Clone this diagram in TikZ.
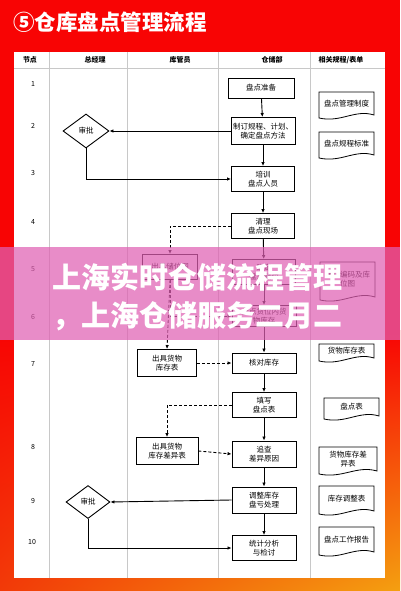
\documentclass[tikz,border=0pt]{standalone}
\usepackage{fontspec}
\setmainfont{Noto Sans CJK SC}
\usetikzlibrary{arrows.meta,shapes.geometric,calc,shadings}
\definecolor{bgred}{HTML}{F80404}
\definecolor{bgorange}{HTML}{F4A010}
\definecolor{bgmid}{HTML}{F23A08}
\definecolor{ovpink}{HTML}{E060B3}
\definecolor{gridgray}{HTML}{C8C8C8}
\tikzset{
  flowbox/.style={draw, line width=0.9pt, minimum width=63pt, minimum height=25pt, align=center,
    font=\fontsize{7.5}{9}\selectfont, inner sep=1pt},
  decide/.style={draw, line width=0.9pt, diamond, aspect=1.35, minimum width=46pt, minimum height=34pt,
    inner sep=0pt, font=\fontsize{7.5}{9}\selectfont},
  docline/.style={draw, line width=0.8pt},
  doctext/.style={align=center, font=\fontsize{7.5}{9}\selectfont, inner sep=0pt},
  flow/.style={line width=0.9pt, -{Latex[length=4pt,width=3.5pt]}},
  dflow/.style={line width=0.9pt, dashed, dash pattern=on 3pt off 2pt, -{Latex[length=4pt,width=3.5pt]}},
  headtext/.style={font=\fontsize{7}{8}\selectfont\bfseries, inner sep=0pt},
  numtext/.style={font=\fontsize{7}{8}\selectfont, inner sep=0pt},
}
\newcommand\mydoc[6]{%
  \draw[docline] (#2,#3) -- (#4,#3) -- (#4,{#5-3}) .. controls ({#4-0.35*(#4-#2)},{#5-9}) and ({#2+0.4*(#4-#2)},{#5+5}) .. (#2,#5) -- cycle;
  \node[doctext] (#1) at ({(#2+#4)/2},{(#3+#5)/2-1.5}) {#6};}
\begin{document}
\begin{tikzpicture}[x=1pt,y=-1pt]
\useasboundingbox (0,0) rectangle (400,591);
% background
\fill[bgred] (0,0) rectangle (400,591);
\shade[upper left=bgred, upper right=bgred, lower left=bgmid, lower right=bgorange] (0,330) rectangle (400,591);
% title
\node[anchor=west, text=white, inner sep=0pt, font=\fontsize{21.5}{23}\selectfont\bfseries] (title) at (13,22) {⑤仓库盘点管理流程};
% table
\fill[white] (14,52) rectangle (385,578);
\draw[gridgray, line width=0.5pt] (14,68) -- (385,68);
\foreach \xx in {49,127,218,310} \draw[gridgray, line width=0.5pt] (\xx,52) -- (\xx,578);
% header
\node[headtext] (h1) at (30,60) {节点};
\node[headtext] (h2) at (95,60) {总经理};
\node[headtext] (h3) at (180,60) {库管员};
\node[headtext] (h4) at (272,60) {仓储部};
\node[headtext] (h5) at (341,60) {相关规程/表单};
% row numbers
\node[numtext] (n1) at (33,84) {1};
\node[numtext] (n2) at (33,126) {2};
\node[numtext] (n3) at (33,173) {3};
\node[numtext] (n4) at (33,222) {4};
\node[numtext] (n5) at (33,269) {5};
\node[numtext] (n6) at (33,317) {6};
\node[numtext] (n7) at (33,364) {7};
\node[numtext] (n8) at (33,447) {8};
\node[numtext] (n9) at (33,501) {9};
\node[numtext] (n10) at (32,542) {10};
% warehouse department boxes
\node[flowbox, minimum width=66pt, minimum height=20pt] (b1) at (261,88) {盘点准备};
\node[flowbox, minimum width=64pt, minimum height=27pt] (b2) at (263,131) {制订规程、计划、\\确定盘点方法};
\node[flowbox] (b3) at (263,179) {培训\\盘点人员};
\node[flowbox] (b4) at (263,226) {清理\\盘点现场};
\node[flowbox] (b5) at (264,272) {确定\\盘点储位};
\node[flowbox, minimum width=64pt, minimum height=21pt] (b6) at (264,316) {盘点货位内货\\物库存};
\node[flowbox, minimum width=64pt, minimum height=20pt] (b7) at (264,363) {核对库存};
\node[flowbox, minimum width=64pt] (b8) at (264,405) {填写\\盘点表};
\node[flowbox, minimum width=64pt, minimum height=26pt] (b9) at (264,454) {追查\\差异原因};
\node[flowbox, minimum width=64pt, minimum height=26pt] (b10) at (264,500) {调整库存\\盘亏处理};
\node[flowbox, minimum width=64pt] (b11) at (264,548) {统计分析\\与检讨};
% storekeeper boxes
\node[flowbox, minimum width=55pt] (k5) at (170,267) {出具储位图};
\node[flowbox, minimum width=59pt, minimum height=27pt] (k7) at (167,363) {出具货物\\库存表};
\node[flowbox, minimum width=62pt, minimum height=27pt] (k8) at (167,451) {出具货物\\库存差异表};
% general manager diamonds
\node[decide] (d2) at (86,131) {审批};
\node[decide, minimum width=44pt, minimum height=33pt] (d9) at (88,502) {审批};
% documents
\mydoc{c1}{319}{92}{374}{118}{盘点管理制度}
\mydoc{c2}{319}{132}{374}{158}{盘点规程标准}
\mydoc{c5}{320}{262}{375}{300}{储位编码及库\\位图}
\mydoc{c7}{319}{344}{374}{361}{货物库存表}
\mydoc{c8}{324}{398}{379}{419}{盘点表}
\mydoc{c8b}{319}{447}{377}{474}{货物库存差\\异表}
\mydoc{c9}{319}{486}{374}{514}{库存调整表}
\mydoc{c10}{319}{527}{374}{555}{盘点工作报告}
% connectors (solid)
\draw[flow] (b1) -- (b2);
\draw[flow] (b2) -- (b3);
\draw[flow] (b3) -- (b4);
\draw[flow] (b4) -- (b5);
\draw[flow] (b5) -- (b6);
\draw[flow] (b6) -- (b7);
\draw[flow] (b7) -- (b8);
\draw[flow] (b8) -- (b9);
\draw[flow] (b9) -- (b10);
\draw[flow] (b10) -- (b11);
\draw[flow] (b2.west) -- (d2.east);
\draw[flow] (d2.south) |- (b3.west);
\draw[flow] (b10.west) -- (d9.east);
\draw[flow] (d9.south) |- (b11.west);
% connectors (dashed)
\draw[dflow] (b4.west) -| (k5.north);
\draw[dflow] (k5.south) -- (k7.north);
\draw[dflow] (k5.south) |- (b6.west);
\draw[dflow] (k7.east) -- (b7.west);
\draw[dflow] (b8.west) -| (k8.north);
\draw[dflow] (k8.east) -- (b9.west);
% overlay banner
\fill[ovpink, opacity=0.72] (0,247) rectangle (400,340);
\node[anchor=west, text=white, inner sep=0pt, font=\fontsize{29}{31}\selectfont\bfseries] (ov1) at (52,277) {上海实时仓储流程管理};
\node[anchor=west, text=white, inner sep=0pt, font=\fontsize{29}{31}\selectfont\bfseries] (ov2) at (52,316) {，上海仓储服务二月二};
\end{tikzpicture}
\end{document}
